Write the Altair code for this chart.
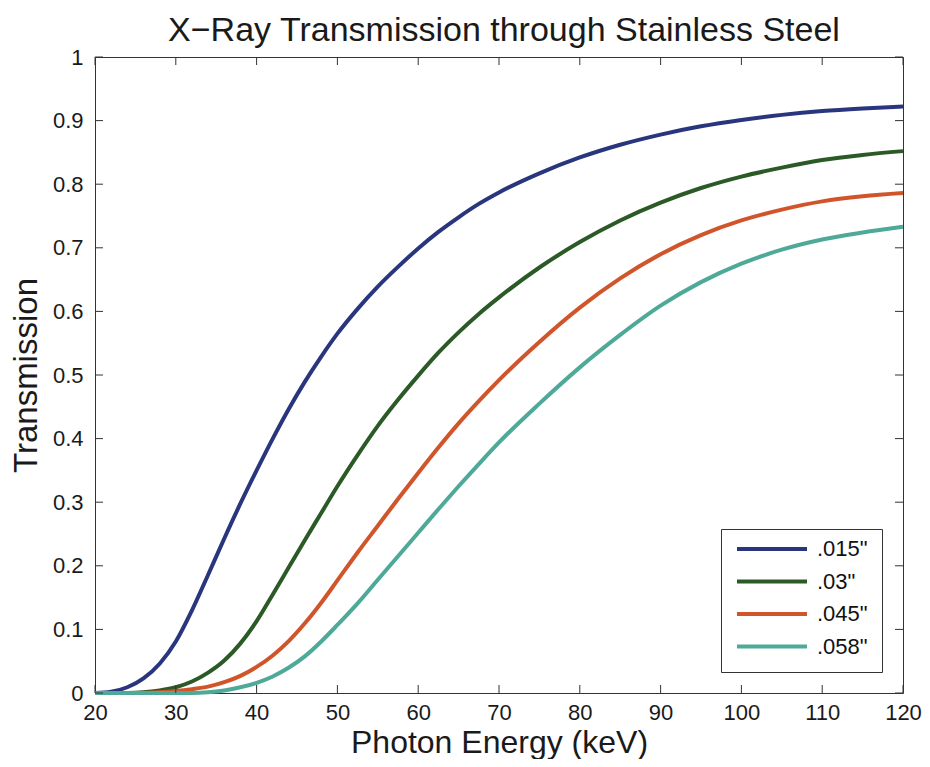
import altair as alt
import pandas as pd

# Photon energy (keV) sample positions
energy = [20, 22, 24, 26, 28, 30, 32, 34, 36, 38, 40, 42, 44, 46, 48, 50,
          52.5, 55, 57.5, 60, 62.5, 65, 67.5, 70, 75, 80, 85, 90, 95, 100,
          105, 110, 115, 120]

# Transmission for each stainless steel thickness
t_015 = [0.000, 0.002, 0.009, 0.023, 0.046, 0.081, 0.130, 0.186, 0.243, 0.298,
         0.350, 0.400, 0.447, 0.490, 0.529, 0.565, 0.604, 0.639, 0.670, 0.699,
         0.725, 0.748, 0.769, 0.787, 0.817, 0.842, 0.862, 0.878, 0.891, 0.901,
         0.909, 0.915, 0.919, 0.922]
t_030 = [0.000, 0.000, 0.000, 0.001, 0.004, 0.009, 0.018, 0.032, 0.051, 0.078,
         0.113, 0.155, 0.198, 0.241, 0.283, 0.325, 0.374, 0.420, 0.461, 0.499,
         0.535, 0.567, 0.596, 0.622, 0.669, 0.709, 0.743, 0.771, 0.794, 0.812,
         0.826, 0.838, 0.846, 0.852]
t_045 = [0.000, 0.000, 0.000, 0.000, 0.001, 0.003, 0.006, 0.010, 0.017, 0.027,
         0.041, 0.059, 0.082, 0.110, 0.142, 0.177, 0.221, 0.263, 0.305, 0.346,
         0.386, 0.424, 0.459, 0.492, 0.552, 0.606, 0.652, 0.690, 0.720, 0.743,
         0.760, 0.773, 0.781, 0.786]
t_058 = [0.000, 0.000, 0.000, 0.000, 0.000, 0.000, 0.000, 0.001, 0.004, 0.009,
         0.016, 0.026, 0.040, 0.058, 0.081, 0.107, 0.141, 0.178, 0.215, 0.252,
         0.289, 0.325, 0.360, 0.394, 0.455, 0.512, 0.563, 0.609, 0.646, 0.675,
         0.697, 0.713, 0.724, 0.733]

series = ['.015"', '.03"', '.045"', '.058"']
colors = ["#29367e", "#2b5a27", "#d1552b", "#4fa999"]

x_ticks = [20, 30, 40, 50, 60, 70, 80, 90, 100, 110, 120]
y_ticks = [0, 0.1, 0.2, 0.3, 0.4, 0.5, 0.6, 0.7, 0.8, 0.9, 1.0]

rows = []
for k, (name, vals) in enumerate(zip(series, [t_015, t_030, t_045, t_058])):
    for e, v in zip(energy, vals):
        rows.append({"energy": e, "T": v, "thickness": name, "k": k})
df = pd.DataFrame(rows)

W, H = 808, 636
FONT = "Liberation Sans"
TICK = 8

x_scale = alt.Scale(domain=[20, 120], nice=False, zero=False)
y_scale = alt.Scale(domain=[0, 1], nice=False, zero=False)

x_axis = alt.Axis(values=x_ticks, title="Photon Energy (keV)",
                  labelPadding=9, labelFlush=False, titleFontSize=32,
                  titleX=W / 2, titleY=59,
                  titleAlign="center", titleBaseline="alphabetic")
y_axis = alt.Axis(values=y_ticks, format=".1~f", title="Transmission",
                  labelPadding=12, labelFlush=False, titleFontSize=33,
                  titleX=-59, titleY=H / 2,
                  titleAngle=270, titleAlign="center",
                  titleBaseline="alphabetic")

lines = alt.Chart(df).mark_line(strokeWidth=4, interpolate="monotone").encode(
    x=alt.X("energy:Q", scale=x_scale, axis=x_axis),
    y=alt.Y("T:Q", scale=y_scale, axis=y_axis),
    color=alt.Color("thickness:N",
                    scale=alt.Scale(domain=series, range=colors),
                    legend=alt.Legend(title=None, orient="none",
                                      legendX=626, legendY=472,
                                      direction="vertical",
                                      symbolType="stroke", symbolSize=4900,
                                      symbolStrokeWidth=4, clipHeight=12,
                                      rowPadding=10.5, padding=14,
                                      strokeColor="#333333", fillColor="white",
                                      labelFontSize=22, labelFont=FONT,
                                      labelOffset=8, labelColor="#111111")),
    order=alt.Order("k:Q"),
    detail="k:N",
)

xt = pd.DataFrame({"energy": x_ticks})
yt = pd.DataFrame({"T": y_ticks})
tick_color = "#333333"

bottom_ticks = alt.Chart(xt).mark_rule(color=tick_color, strokeWidth=1).encode(
    x=alt.X("energy:Q", scale=x_scale, axis=x_axis),
    y=alt.value(H), y2=alt.value(H - TICK))
top_ticks = alt.Chart(xt).mark_rule(color=tick_color, strokeWidth=1).encode(
    x=alt.X("energy:Q", scale=x_scale, axis=x_axis),
    y=alt.value(0), y2=alt.value(TICK))
left_ticks = alt.Chart(yt).mark_rule(color=tick_color, strokeWidth=1).encode(
    y=alt.Y("T:Q", scale=y_scale, axis=y_axis),
    x=alt.value(0), x2=alt.value(TICK))
right_ticks = alt.Chart(yt).mark_rule(color=tick_color, strokeWidth=1).encode(
    y=alt.Y("T:Q", scale=y_scale, axis=y_axis),
    x=alt.value(W), x2=alt.value(W - TICK))

chart = alt.layer(lines, bottom_ticks, top_ticks, left_ticks, right_ticks).properties(
    width=W, height=H,
    autosize=alt.AutoSizeParams(type="none"),
    padding={"left": 87, "top": 49, "right": 19, "bottom": 66},
    title=alt.TitleParams("X\u2212Ray Transmission through Stainless Steel",
                          font=FONT, fontSize=34, fontWeight="normal",
                          color="#1a1a1a", anchor="middle", dx=5, dy=6),
).configure_view(
    stroke="#333333", strokeWidth=1
).configure_axis(
    domain=False, ticks=False, grid=False,
    labelFont=FONT, labelFontSize=22, labelColor="#1a1a1a",
    titleFont=FONT, titleFontWeight="normal",
    titleColor="#1a1a1a",
)

chart.save("out.html", embed_options={"renderer": "svg", "actions": False})
